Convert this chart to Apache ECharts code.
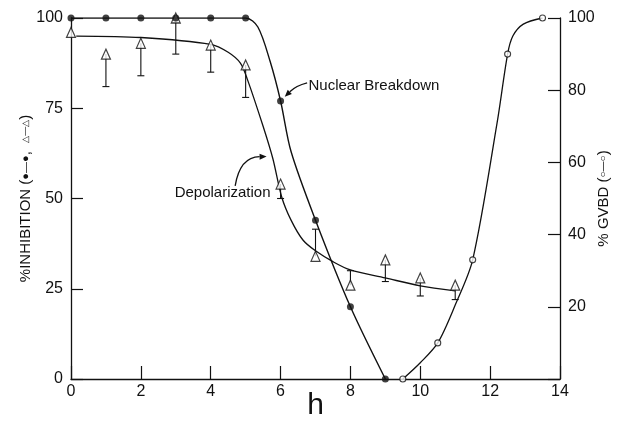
<!DOCTYPE html>
<html>
<head>
<meta charset="utf-8">
<script src="https://cdn.jsdelivr.net/npm/echarts@6/dist/echarts.min.js"></script>
<style>html,body{margin:0;padding:0;background:#fff;}#c{width:621px;height:421px;}</style>
</head>
<body>
<div id="c"></div>
<script>
// ---- data ----
const xTicks = [0, 2, 4, 6, 8, 10, 12, 14];
const leftTicks = [0, 25, 50, 75, 100];
const rightTicks = [20, 40, 60, 80, 100];

// Nuclear breakdown (filled circles)
const nbX = [0, 1, 2, 3, 4, 5, 6, 7, 8, 9];
const nbY = [100, 100, 100, 100, 100, 100, 77, 44, 20, 0];
// hand-drawn fitted curve through nuclear breakdown
const nbCurveX = [0, 5, 5.35, 5.7, 6, 6.3, 7, 8, 9];
const nbCurveY = [100, 100, 97.5, 88, 77, 63, 44, 20, 0];

// Depolarization (open triangles + error bars)
const dpX = [0, 1, 2, 3, 4, 5, 6, 7, 8, 9, 10, 11];
const dpY = [96, 90, 93, 100, 92.5, 87, 54, 34, 26, 33, 28, 26];
const dpErr = [null, 81, 84, 90, 85, 78, 50, 41.5, 30, 27, 23, 22];
// fitted depolarization curve
const dpCurveX = [0.15, 2, 4, 4.5, 4.85, 5.05, 5.5, 5.78, 6.03, 6.3, 6.64, 7, 7.5, 8, 9, 10, 11];
const dpCurveY = [95, 94.6, 92.7, 90.5, 87.5, 83, 70, 61, 50.5, 44, 38.5, 35.5, 32.5, 30.2, 28, 25.8, 24.4];

// GVBD (open circles)
const gvX = [9.5, 10.5, 11.5, 12.5, 13.5];
const gvY = [0, 10, 33, 90, 100];
const gvCurveX = [9.5, 10, 10.5, 11, 11.5, 12.2, 12.5, 12.65, 12.95, 13.5];
const gvCurveY = [0, 4.5, 10, 20.5, 33, 71, 90, 95, 98.3, 100];

// annotations (data coords)
const nbLabel = {text: 'Nuclear Breakdown', x: 6.8, y: 81.3};
const nbArrow = {from: [6.76, 82], ctrl: [6.44, 81.2], to: [6.12, 78.2]};
const dpLabel = {text: 'Depolarization', x: 4.34, y: 51.5};
const dpArrow = {from: [4.7, 53.5], ctrl: [4.84, 61.5], to: [5.6, 61.6]};

const zip = (a, b) => a.map((v, i) => [v, b[i]]);
const FONT = '"Liberation Sans", Arial, sans-serif';
const INK = '#111';

const chart = echarts.init(document.getElementById('c'), null, {renderer: 'canvas'});

const axisCommon = {
  axisLine: {show: true, lineStyle: {color: INK, width: 1.3}},
  axisTick: {show: true, inside: true, length: 12, lineStyle: {color: INK, width: 1.2}},
  splitLine: {show: false},
  axisLabel: {color: INK, fontFamily: FONT, fontSize: 16, margin: 8},
  nameMoveOverlap: false
};

const option = {
  backgroundColor: '#fff',
  animation: false,
  grid: {left: 71, right: 61, top: 18, bottom: 42, outerBoundsMode: 'none', containLabel: false},
  xAxis: Object.assign({}, axisCommon, {
    type: 'value', min: 0, max: 14, interval: 2,
    axisLabel: Object.assign({}, axisCommon.axisLabel, {margin: 5,
      formatter: v => xTicks.includes(v) ? String(v) : ''}),
    axisTick: Object.assign({}, axisCommon.axisTick, {length: 13}),
    name: 'h', nameLocation: 'middle', nameGap: 12,
    nameTextStyle: {color: INK, fontFamily: FONT, fontSize: 30}
  }),
  yAxis: [
    Object.assign({}, axisCommon, {
      type: 'value', min: 0, max: 100, interval: 25, position: 'left',
      axisLabel: Object.assign({}, axisCommon.axisLabel, {
        formatter: v => leftTicks.includes(v) ? String(v) : ''}),
      name: '%INHIBITION ({s|●—●},  {t|△—△})',
      nameLocation: 'middle', nameRotate: 90, nameGap: 38,
      nameTextStyle: {color: INK, fontFamily: FONT, fontSize: 15,
        rich: {s: {fontSize: 11, color: INK, fontFamily: FONT},
               t: {fontSize: 9, color: INK, fontFamily: FONT}}}
    }),
    Object.assign({}, axisCommon, {
      type: 'value', min: 0, max: 100, interval: 20, position: 'right',
      axisLabel: Object.assign({}, axisCommon.axisLabel, {
        formatter: v => rightTicks.includes(v) ? String(v) : ''}),
      name: '% GVBD ({s|○—○})',
      nameLocation: 'middle', nameRotate: 90, nameGap: 36,
      nameTextStyle: {color: INK, fontFamily: FONT, fontSize: 15,
        rich: {s: {fontSize: 10, color: INK, fontFamily: FONT}}}
    })
  ],
  series: [
    {type: 'line', data: zip(nbCurveX, nbCurveY), smooth: 0.3,
     showSymbol: false, lineStyle: {color: INK, width: 1.4}, z: 2, silent: true},
    {type: 'line', data: zip(dpCurveX, dpCurveY), smooth: 0.3,
     showSymbol: false, lineStyle: {color: INK, width: 1.3}, z: 2, silent: true},
    {type: 'line', data: zip(gvCurveX, gvCurveY), smooth: 0.3,
     showSymbol: false, lineStyle: {color: INK, width: 1.3}, z: 2, silent: true,
     yAxisIndex: 1},
    {type: 'custom', z: 3, silent: true,
     data: dpX.map((x, i) => [x, dpY[i], dpErr[i] == null ? dpY[i] : dpErr[i]]),
     renderItem: function (params, api) {
       const x = api.value(0), y = api.value(1), e = api.value(2);
       if (e === y) return null;
       const p0 = api.coord([x, y]);
       const p1 = api.coord([x, e]);
       const w = 3.5;
       return {type: 'group', children: [
         {type: 'line', shape: {x1: p0[0], y1: p0[1], x2: p1[0], y2: p1[1]},
          style: {stroke: INK, lineWidth: 1.1}},
         {type: 'line', shape: {x1: p1[0] - w, y1: p1[1], x2: p1[0] + w, y2: p1[1]},
          style: {stroke: INK, lineWidth: 1.1}}
       ]};
     }},
    {type: 'scatter', data: zip(dpX, dpY), symbol: 'triangle', symbolSize: [9, 10],
     itemStyle: {color: '#fff', borderColor: INK, borderWidth: 1.2}, z: 5},
    {type: 'scatter', data: zip(nbX, nbY), symbol: 'circle', symbolSize: 7,
     itemStyle: {color: INK}, z: 6},
    {type: 'scatter', data: zip(gvX, gvY), symbol: 'circle', symbolSize: 6,
     itemStyle: {color: '#fff', borderColor: INK, borderWidth: 1.1}, z: 6, yAxisIndex: 1}
  ]
};
chart.setOption(option);

function px(p) { return chart.convertToPixel({gridIndex: 0}, p); }
function arrow(a) {
  const f = px(a.from), c = px(a.ctrl), t = px(a.to);
  const ang = Math.atan2(t[1] - c[1], t[0] - c[0]);
  const L = 7, W = 3;
  const bx = t[0] - L * Math.cos(ang), by = t[1] - L * Math.sin(ang);
  const nx = -Math.sin(ang) * W, ny = Math.cos(ang) * W;
  return [
    {type: 'bezierCurve', shape: {x1: f[0], y1: f[1], cpx1: c[0], cpy1: c[1], x2: bx, y2: by},
     style: {stroke: INK, lineWidth: 1.3, fill: null}, z: 10},
    {type: 'polygon', shape: {points: [[t[0], t[1]], [bx + nx, by + ny], [bx - nx, by - ny]]},
     style: {fill: INK}, z: 10}
  ];
}
const nbP = px([nbLabel.x, nbLabel.y]);
const dpP = px([dpLabel.x, dpLabel.y]);
chart.setOption({graphic: [].concat(
  arrow(nbArrow), arrow(dpArrow),
  [{type: 'text', x: nbP[0], y: nbP[1], z: 10,
    style: {text: nbLabel.text, font: '15px ' + FONT, fill: INK, textAlign: 'left', textVerticalAlign: 'middle'}},
   {type: 'text', x: dpP[0], y: dpP[1], z: 10,
    style: {text: dpLabel.text, font: '15px ' + FONT, fill: INK, textAlign: 'center', textVerticalAlign: 'middle'}}]
)});
</script>
</body>
</html>
